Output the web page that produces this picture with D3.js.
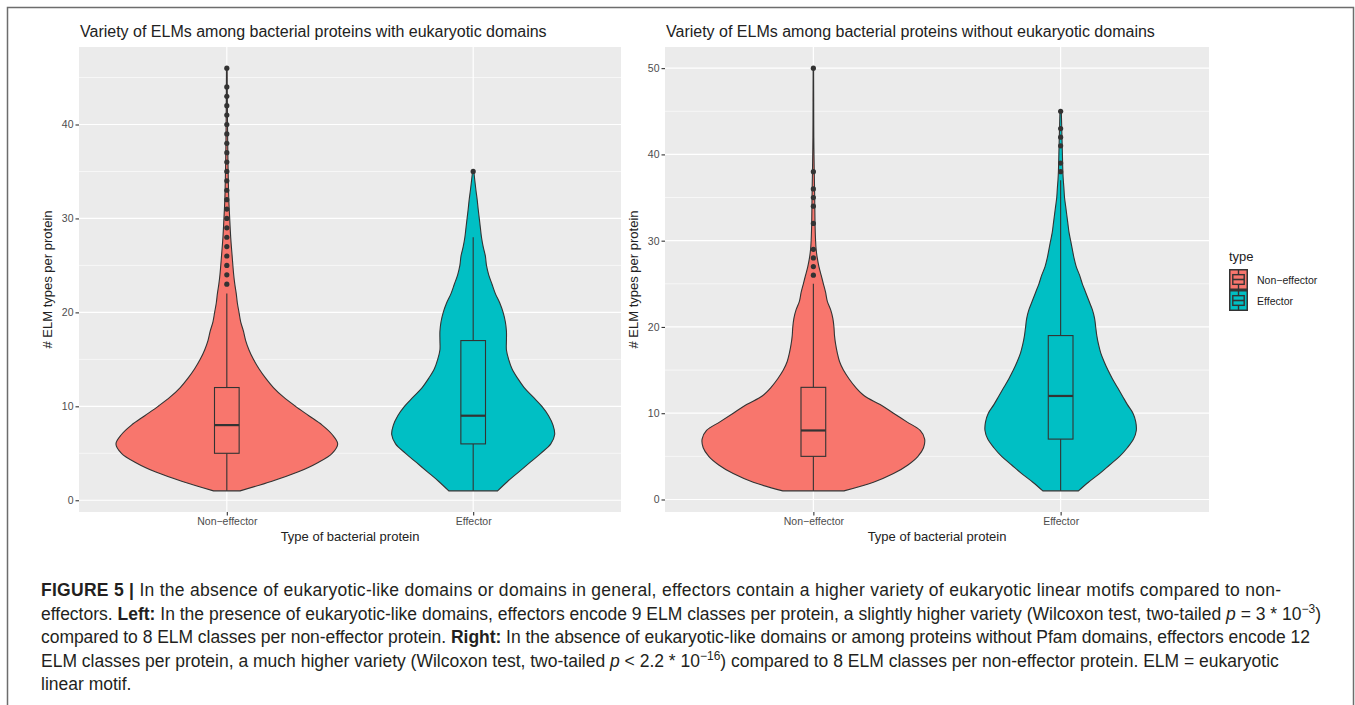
<!DOCTYPE html>
<html><head><meta charset="utf-8">
<script src="https://cdn.jsdelivr.net/npm/d3@7"></script>
<style>
body{margin:0;background:#fff}
svg{display:block}
text{font-family:"Liberation Sans",Arial,sans-serif}
.cap{font-family:"Liberation Sans Narrow","Liberation Sans",Arial,sans-serif;font-size:17.5px;fill:#231f20}
</style>
</head><body>
<svg id="c" width="1355" height="705"></svg>
<script>
// ---------------- data ----------------
const categories = ["Non\u2212effector", "Effector"];
const fillColors = ["#F8766D", "#00BFC4"];
const panelTitles = [
  "Variety of ELMs among bacterial proteins with eukaryotic domains",
  "Variety of ELMs among bacterial proteins without eukaryotic domains"
];
const yTicksLeft = [0, 10, 20, 30, 40];
const yMinorLeft = [5, 15, 25, 35, 45];
const yTicksRight = [0, 10, 20, 30, 40, 50];
const yMinorRight = [5, 15, 25, 35, 45];

// violin outlines: ELM count -> relative half width (1 = widest violin)
const leftNonEffValues = [1,2,3,4,5,6,7,8,9,10,11,12,13,14,15,16,17,18,19,20,21,22,23,24,26,28,30,32,35,38,42,46];
const leftNonEffWidths = [0.12,0.40,0.64,0.82,0.95,1.0,0.95,0.86,0.74,0.62,0.51,0.42,0.35,0.29,0.24,0.2,0.17,0.15,0.125,0.11,0.095,0.085,0.072,0.062,0.048,0.035,0.026,0.018,0.012,0.008,0.005,0.003];
const leftEffValues = [1,2,3,4,5,6,7,8,9,10,11,12,13,14,15,16,17,18,19,20,21,22,23,24,25,26,27,28,29,30,31,32,33,34,35];
const leftEffWidths = [0.22,0.31,0.41,0.51,0.61,0.70,0.735,0.72,0.68,0.62,0.54,0.46,0.40,0.35,0.32,0.30,0.30,0.30,0.29,0.27,0.24,0.20,0.17,0.14,0.12,0.11,0.09,0.075,0.065,0.055,0.045,0.036,0.025,0.015,0.006];
const rightNonEffValues = [1,2,3,4,5,6,7,8,9,10,11,12,13,14,15,16,17,18,19,20,21,22,23,24,25,26,27,28,29,30,32,35,38,42,46,50];
const rightNonEffWidths = [0.275,0.54,0.72,0.85,0.94,0.99,1.0,0.96,0.84,0.72,0.60,0.46,0.38,0.32,0.27,0.235,0.215,0.2,0.19,0.185,0.175,0.155,0.125,0.11,0.09,0.07,0.05,0.035,0.025,0.02,0.015,0.012,0.008,0.004,0.003,0.002];
const rightEffValues = [1,2,3,4,5,6,7,8,9,10,11,12,13,14,15,16,17,18,19,20,21,22,23,24,25,26,27,28,29,30,31,32,33,34,35,36,37,38,40,42,45];
const rightEffWidths = [0.16,0.25,0.35,0.44,0.53,0.60,0.655,0.68,0.675,0.65,0.60,0.555,0.51,0.465,0.425,0.39,0.36,0.34,0.325,0.315,0.305,0.285,0.255,0.225,0.195,0.17,0.14,0.12,0.105,0.09,0.075,0.065,0.055,0.045,0.035,0.03,0.024,0.02,0.016,0.012,0.006];

// box stats: [lower whisker, Q1, median, Q3, upper whisker]
const leftNonEffBox = [1, 5, 8, 12, 22];
const leftEffBox = [1, 6, 9, 17, 28];
const rightNonEffBox = [1, 5, 8, 13, 25];
const rightEffBox = [1, 7, 12, 19, 37];

const leftNonEffOutliers = [23,24,25,26,27,28,29,30,31,32,33,34,35,36,37,38,39,40,41,42,43,44,46];
const leftEffOutliers = [35];
const rightNonEffOutliers = [26,27,28,29,32,34,35,36,38,50];
const rightEffOutliers = [38,39,41,42,43,45];

// ---------------- drawing ----------------
const svg = d3.select("#c");
svg.append("rect").attr("width",1355).attr("height",705).attr("fill","#fff");
svg.append("rect").attr("x",7.5).attr("y",7.5).attr("width",1346).attr("height",710)
  .attr("fill","none").attr("stroke","#6d6d6d").attr("stroke-width",1.5);

const panels = [
  { x0: 79, x1: 621, yDomain: [-1.25, 48.25], ticks: yTicksLeft, minor: yMinorLeft, title: panelTitles[0],
    groups: [
      { v: leftNonEffValues, w: leftNonEffWidths, box: leftNonEffBox, out: leftNonEffOutliers },
      { v: leftEffValues, w: leftEffWidths, box: leftEffBox, out: leftEffOutliers } ] },
  { x0: 665, x1: 1209, yDomain: [-1.45, 52.45], ticks: yTicksRight, minor: yMinorRight, title: panelTitles[1],
    groups: [
      { v: rightNonEffValues, w: rightNonEffWidths, box: rightNonEffBox, out: rightNonEffOutliers },
      { v: rightEffValues, w: rightEffWidths, box: rightEffBox, out: rightEffOutliers } ] }
];
const py0 = 47, py1 = 512;
const dark = "#333333";

panels.forEach(p => {
  const g = svg.append("g");
  const x = d3.scalePoint().domain(categories).range([p.x0, p.x1]).padding(0.6);
  const y = d3.scaleLinear().domain(p.yDomain).range([py1, py0]);
  const step = x.step();
  const wScale = d3.scaleLinear().domain([0, 1]).range([0, 0.45 * step]);

  g.append("rect").attr("x", p.x0).attr("y", py0).attr("width", p.x1 - p.x0).attr("height", py1 - py0).attr("fill", "#EBEBEB");
  g.selectAll(".mn").data(p.minor).join("line")
    .attr("x1", p.x0).attr("x2", p.x1).attr("y1", d => y(d)).attr("y2", d => y(d))
    .attr("stroke", "#fff").attr("stroke-width", 0.6);
  g.selectAll(".mj").data(p.ticks).join("line")
    .attr("x1", p.x0).attr("x2", p.x1).attr("y1", d => y(d)).attr("y2", d => y(d))
    .attr("stroke", "#fff").attr("stroke-width", 1.2);
  g.selectAll(".vx").data(categories).join("line")
    .attr("x1", d => x(d)).attr("x2", d => x(d)).attr("y1", py0).attr("y2", py1)
    .attr("stroke", "#fff").attr("stroke-width", 1.2);

  p.groups.forEach((gr, i) => {
    const cx = x(categories[i]);
    const pts = gr.v.map((v, k) => ({ v, w: gr.w[k] }));
    const area = d3.area()
      .y(d => y(d.v))
      .x0(d => cx - wScale(d.w))
      .x1(d => cx + wScale(d.w))
      .curve(d3.curveCatmullRom.alpha(0.5));
    g.append("path").attr("d", area(pts)).attr("fill", fillColors[i])
      .attr("stroke", dark).attr("stroke-width", 1.1);
    const b = gr.box;
    const bh = 0.05 * step;
    g.append("line").attr("x1", cx).attr("x2", cx).attr("y1", y(b[0])).attr("y2", y(b[1]))
      .attr("stroke", dark).attr("stroke-width", 1.1);
    g.append("line").attr("x1", cx).attr("x2", cx).attr("y1", y(b[3])).attr("y2", y(b[4]))
      .attr("stroke", dark).attr("stroke-width", 1.1);
    g.append("rect").attr("x", cx - bh).attr("width", 2 * bh).attr("y", y(b[3])).attr("height", y(b[1]) - y(b[3]))
      .attr("fill", fillColors[i]).attr("stroke", dark).attr("stroke-width", 1.1);
    g.append("line").attr("x1", cx - bh).attr("x2", cx + bh).attr("y1", y(b[2])).attr("y2", y(b[2]))
      .attr("stroke", dark).attr("stroke-width", 2.2);
    g.selectAll(null).data(gr.out).join("circle")
      .attr("cx", cx).attr("cy", d => y(d)).attr("r", 2.6).attr("fill", dark);
  });

  const ya = g.append("g").attr("transform", `translate(${p.x0},0)`)
    .call(d3.axisLeft(y).tickValues(p.ticks).tickSize(3.5).tickPadding(2));
  ya.select(".domain").remove();
  ya.selectAll("line").attr("stroke", dark).attr("stroke-width", 1.1);
  ya.selectAll("text").attr("fill", "#4D4D4D").style("font-size", "10.5px").style("font-family", "Liberation Sans, Arial");
  const xa = g.append("g").attr("transform", `translate(0,${py1})`)
    .call(d3.axisBottom(x).tickSize(3.5).tickPadding(2));
  xa.select(".domain").remove();
  xa.selectAll("line").attr("stroke", dark).attr("stroke-width", 1.1);
  xa.selectAll("text").attr("fill", "#4D4D4D").style("font-size", "10.5px").style("font-family", "Liberation Sans, Arial");

  g.append("text").attr("x", p.x0 + 1).attr("y", 37).attr("font-size", 16).attr("fill", "#222").text(p.title);
  g.append("text").attr("x", (p.x0 + p.x1) / 2).attr("y", 541).attr("text-anchor", "middle")
    .attr("font-size", 13).attr("fill", "#222").text("Type of bacterial protein");
  g.append("text").attr("transform", `translate(${p.x0 - 27},${(py0 + py1) / 2}) rotate(-90)`)
    .attr("text-anchor", "middle").attr("font-size", 13).attr("fill", "#222").text("# ELM types per protein");
});

// legend
const lg = svg.append("g").attr("transform", "translate(1229,250)");
lg.append("text").attr("x", 0).attr("y", 11).attr("font-size", 13).attr("fill", "#222").text("type");
categories.forEach((c, i) => {
  const ky = 19 + i * 21, kw = 19, kh = 21;
  const k = lg.append("g").attr("transform", `translate(0,${ky})`);
  k.append("rect").attr("x", 0.75).attr("y", 0.75).attr("width", kw - 1.5).attr("height", kh - 1.5)
    .attr("fill", fillColors[i]).attr("stroke", dark).attr("stroke-width", 1.5);
  k.append("rect").attr("x", kw * 0.2).attr("y", kh * 0.27).attr("width", kw * 0.6).attr("height", kh * 0.46)
    .attr("fill", "none").attr("stroke", dark).attr("stroke-width", 1.4);
  k.append("line").attr("x1", kw * 0.2).attr("x2", kw * 0.8).attr("y1", kh / 2).attr("y2", kh / 2).attr("stroke", dark).attr("stroke-width", 1.6);
  k.append("line").attr("x1", kw / 2).attr("x2", kw / 2).attr("y1", 0).attr("y2", kh * 0.27).attr("stroke", dark).attr("stroke-width", 1.4);
  k.append("line").attr("x1", kw / 2).attr("x2", kw / 2).attr("y1", kh * 0.73).attr("y2", kh).attr("stroke", dark).attr("stroke-width", 1.4);
  lg.append("text").attr("x", 28).attr("y", ky + kh / 2 + 4).attr("font-size", 10.5).attr("fill", "#222").text(c);
});

// caption
const capLines = [
  [["b","FIGURE 5 | "],["n","In the absence of eukaryotic-like domains or domains in general, effectors contain a higher variety of eukaryotic linear motifs compared to non-"]],
  [["n","effectors. "],["b","Left:"],["n"," In the presence of eukaryotic-like domains, effectors encode 9 ELM classes per protein, a slightly higher variety (Wilcoxon test, two-tailed "],["i","p"],["n"," = 3 * 10"],["s","\u22123"],["n",")"]],
  [["n","compared to 8 ELM classes per non-effector protein. "],["b","Right:"],["n"," In the absence of eukaryotic-like domains or among proteins without Pfam domains, effectors encode 12"]],
  [["n","ELM classes per protein, a much higher variety (Wilcoxon test, two-tailed "],["i","p"],["n"," < 2.2 * 10"],["s","\u221216"],["n",") compared to 8 ELM classes per non-effector protein. ELM = eukaryotic"]],
  [["n","linear motif."]]
];
const capY = [596, 619.5, 643, 666.5, 690];
const capLen = [1240, null, 1269, null, null];
capLines.forEach((line, li) => {
  const t = svg.append("text").attr("class", "cap").attr("x", 41).attr("y", capY[li]);
  if (capLen[li]) t.attr("textLength", capLen[li]).attr("lengthAdjust", "spacing");
  let sup = false;
  line.forEach(([k, s]) => {
    const ts = t.append("tspan").text(s);
    if (k === "b") ts.attr("font-weight", "bold");
    if (k === "i") ts.attr("font-style", "italic");
    if (k === "s") { ts.attr("dy", -7).attr("font-size", 12); sup = true; }
    else if (sup) { ts.attr("dy", 7); sup = false; }
  });
});
</script>
</body></html>
